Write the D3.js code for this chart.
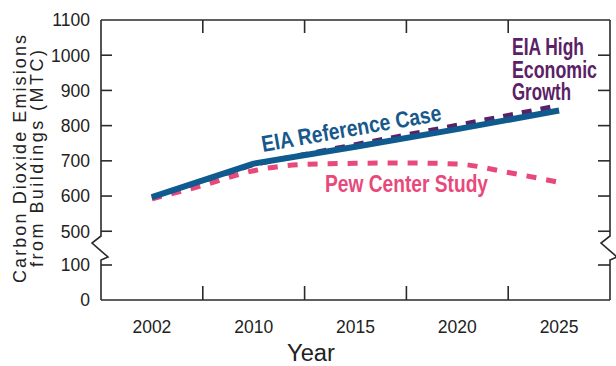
<!DOCTYPE html>
<html><head><meta charset="utf-8">
<script src="https://cdn.jsdelivr.net/npm/d3@7"></script>
<style>body{margin:0;background:#fff}svg{display:block}</style>
</head><body><svg id="c" width="616" height="366"></svg>
<script>
const categories = ["2002","2010","2015","2020","2025"];
const years = [2002, 2010, 2015, 2020, 2025];
const refValues = [597, 692, 740, 790, 843];
const highValues = [597, 690, 746, 801, 857];
const pewYears = [2002, 2006, 2010, 2012.5, 2015, 2017.5, 2020, 2022.5, 2025];
const pewValues = [592, 630, 672, 690, 693, 694, 691, 667, 639];
const upperTicks = [500, 600, 700, 800, 900, 1000, 1100];
const lowerTicks = [0, 100];

const svg = d3.select("#c");
const L = 101, R = 610, T = 20, B = 300;
const x = d3.scaleBand().domain(categories).range([L, R]).paddingInner(0).paddingOuter(0);
const centers = categories.map(c => x(c) + x.bandwidth()/2);
const xYear = d3.scaleLinear().domain(years).range(centers);
const yUp = d3.scaleLinear().domain([500, 1100]).range([231.25, T]);
const yLo = d3.scaleLinear().domain([0, 100]).range([B, 265]);
const yv = v => v >= 500 ? yUp(v) : yLo(v);

const axisColor = "#2a2a2a";
const g = svg.append("g").attr("stroke", axisColor).attr("stroke-width", 1.6).attr("fill", "none");
g.append("line").attr("x1", L).attr("x2", R).attr("y1", T).attr("y2", T);
g.append("line").attr("x1", L).attr("x2", R).attr("y1", B).attr("y2", B);
function side(xp) {
  const p = d3.path();
  p.moveTo(xp, T); p.lineTo(xp, 236); p.lineTo(xp - 9, 243); p.lineTo(xp + 7, 257); p.lineTo(xp, 260); p.lineTo(xp, B);
  return p.toString();
}
g.append("path").attr("d", side(L));
g.append("path").attr("d", side(R));
const yTickVals = upperTicks.filter(v => v < 1100).concat([100]);
yTickVals.forEach(v => {
  g.append("line").attr("x1", L).attr("x2", L + 11).attr("y1", yv(v)).attr("y2", yv(v));
  g.append("line").attr("x1", R).attr("x2", R - 12).attr("y1", yv(v)).attr("y2", yv(v));
});
categories.slice(1).forEach(c => {
  const xp = x(c);
  g.append("line").attr("x1", xp).attr("x2", xp).attr("y1", B).attr("y2", B - 14);
  g.append("line").attr("x1", xp).attr("x2", xp).attr("y1", T).attr("y2", T + 13);
});

const font = "'Liberation Sans', Arial, Helvetica, sans-serif";
upperTicks.concat(lowerTicks).forEach(v => {
  svg.append("text").attr("x", 90).attr("y", yv(v)).attr("dy", "0.36em")
    .attr("text-anchor", "end").attr("font-family", font).attr("font-size", 17.5)
    .attr("fill", "#222").text(v);
});
categories.forEach((c, i) => {
  svg.append("text").attr("x", centers[i]).attr("y", 333)
    .attr("text-anchor", "middle").attr("font-family", font).attr("font-size", 17.5)
    .attr("fill", "#222").text(c);
});
svg.append("text").attr("x", 311).attr("y", 361).attr("text-anchor", "middle")
  .attr("font-family", font).attr("font-size", 23).attr("fill", "#222")
  .attr("textLength", 48).attr("lengthAdjust", "spacingAndGlyphs").text("Year");
svg.append("text").attr("transform", "translate(26,159) rotate(-90)").attr("text-anchor", "middle")
  .attr("font-family", font).attr("font-size", 18).attr("fill", "#222")
  .attr("textLength", 248).attr("lengthAdjust", "spacing")
  .text("Carbon Dioxide Emisions");
svg.append("text").attr("transform", "translate(43,158.5) rotate(-90)").attr("text-anchor", "middle")
  .attr("font-family", font).attr("font-size", 18).attr("fill", "#222")
  .attr("textLength", 217).attr("lengthAdjust", "spacing")
  .text("from Buildings (MTC)");

const pewColor = "#e8497b", highColor = "#5a2166", refColor = "#0f5a8e";
svg.append("path").datum(pewYears.map((yr, i) => [yr, pewValues[i]]))
  .attr("d", d3.line().x(d => xYear(d[0])).y(d => yv(d[1])).curve(d3.curveMonotoneX))
  .attr("fill", "none").attr("stroke", pewColor)
  .attr("stroke-width", 5).attr("stroke-dasharray", "10,10");
svg.append("path").datum(years.map((yr, i) => [yr, highValues[i]]))
  .attr("d", d3.line().x(d => xYear(d[0])).y(d => yv(d[1]))).attr("fill", "none").attr("stroke", highColor)
  .attr("stroke-width", 5).attr("stroke-dasharray", "10,9");
svg.append("path").datum(years.map((yr, i) => [yr, refValues[i]]))
  .attr("d", d3.line().x(d => xYear(d[0])).y(d => yv(d[1]))).attr("fill", "none").attr("stroke", refColor)
  .attr("stroke-width", 6).attr("stroke-linejoin", "round");

svg.append("text").attr("transform", "translate(263,152) rotate(-10)")
  .attr("font-family", font).attr("font-weight", "bold").attr("font-size", 23)
  .attr("textLength", 182).attr("lengthAdjust", "spacingAndGlyphs")
  .attr("fill", "#17598c").text("EIA Reference Case");
svg.append("text").attr("x", 325).attr("y", 192)
  .attr("font-family", font).attr("font-weight", "bold").attr("font-size", 23.5)
  .attr("textLength", 163).attr("lengthAdjust", "spacingAndGlyphs")
  .attr("fill", pewColor).text("Pew Center Study");
const highLines = ["EIA High", "Economic", "Growth"];
const highWidths = [72, 85, 59];
highLines.forEach((t, i) => {
  svg.append("text").attr("x", 512).attr("y", 55 + i * 22.5)
    .attr("font-family", font).attr("font-weight", "bold").attr("font-size", 23)
    .attr("textLength", highWidths[i]).attr("lengthAdjust", "spacingAndGlyphs")
    .attr("fill", highColor).text(t);
});
</script></body></html>
